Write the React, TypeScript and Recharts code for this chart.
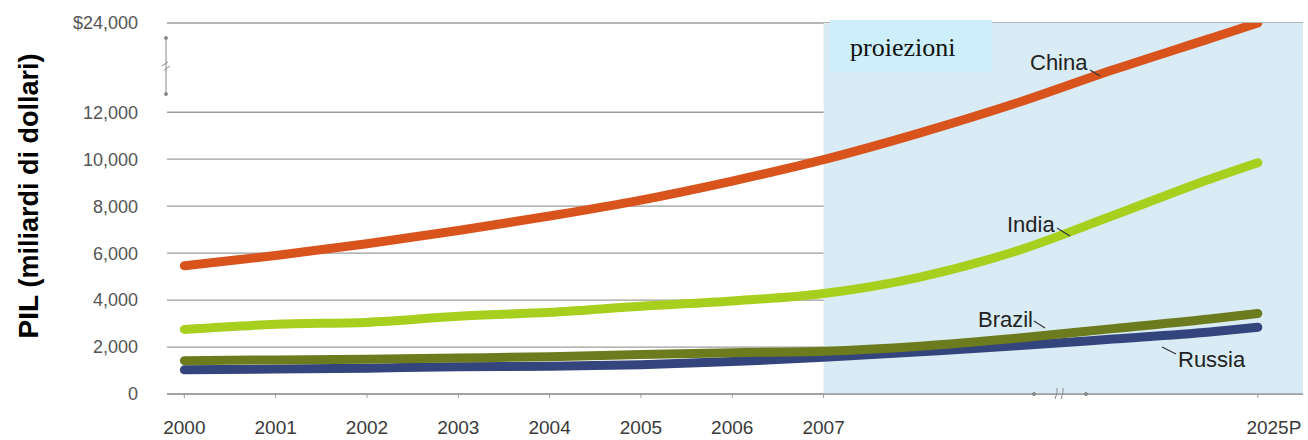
import React from "react"
import { LineChart, Line, XAxis, YAxis, CartesianGrid, ReferenceArea } from "recharts"

// anni: 2000-2007 effettivi, poi proiezioni fino al 2025
const YEARS = [2000, 2001, 2002, 2003, 2004, 2005, 2006, 2007, 2011, 2015, 2019, 2023, 2025]
const CHINA = [5460, 5900, 6400, 6960, 7580, 8260, 9070, 9980, 11120, 13230, 17700, 21900, 24000]
const INDIA = [2750, 2970, 3050, 3310, 3480, 3740, 3960, 4280, 4980, 6090, 7600, 9150, 9850]
const BRAZIL = [1420, 1450, 1480, 1530, 1590, 1680, 1760, 1820, 2030, 2370, 2785, 3190, 3430]
const RUSSIA = [1030, 1060, 1100, 1160, 1180, 1250, 1380, 1560, 1800, 2050, 2340, 2640, 2840]

const TICK_YEARS = [2000, 2001, 2002, 2003, 2004, 2005, 2006, 2007, 2025]
const TICK_LABELS = ["2000", "2001", "2002", "2003", "2004", "2005", "2006", "2007", "2025P"]
const Y_TICKS = [0, 2000, 4000, 6000, 8000, 10000, 12000, 24000]
const Y_TICK_LABELS = ["0", "2,000", "4,000", "6,000", "8,000", "10,000", "12,000", "$24,000"]

const LAST_ACTUAL = 2007
const Y_BREAK = 12000

// broken x axis: projection years are squeezed
const xPos = (year: number) =>
  year <= LAST_ACTUAL ? year - 2000 : 7 + (year - LAST_ACTUAL) * 0.2642

// broken y axis: above 12,000 the scale is compressed
const yPlot = (v: number) => (v <= Y_BREAK ? v : Y_BREAK + ((v - Y_BREAK) * 3800) / 12000)

const X_MIN = -0.19
const X_MAX = 12.25
const Y_MAX = yPlot(24000)

const data = YEARS.map((year, i) => ({
  x: xPos(year),
  china: yPlot(CHINA[i]),
  india: yPlot(INDIA[i]),
  brazil: yPlot(BRAZIL[i]),
  russia: yPlot(RUSSIA[i]),
}))

const xTicks = TICK_YEARS.map(xPos)
const yTicks = Y_TICKS.map(yPlot)

const FONT = "'Liberation Sans', Arial, Helvetica, sans-serif"

function XTick({ x, y, payload }: any) {
  const idx = xTicks.findIndex((t) => Math.abs(t - payload.value) < 1e-6)
  const label = TICK_LABELS[idx] ?? ""
  const shift = label === "2025P" ? 16 : 0
  return (
    <text x={x + shift} y={y} dy="0.71em" textAnchor="middle" fontSize={19} fill="#3a3a3a" fontFamily={FONT}>
      {label}
    </text>
  )
}

const yFormat = (v: number) => {
  const idx = yTicks.findIndex((t) => Math.abs(t - v) < 1e-6)
  return Y_TICK_LABELS[idx] ?? ""
}

function Overlay() {
  const labelStyle = { fontSize: 22, fill: "#222", fontFamily: FONT }
  return (
    <svg
      width={1308}
      height={440}
      style={{ position: "absolute", left: 0, top: 0, pointerEvents: "none" }}
    >
      {/* proiezioni box */}
      <rect x={830} y={20} width={162} height={52} fill="#cdeefb" />
      <text x={850} y={56} fontSize={26} fontFamily="'Liberation Serif', 'Times New Roman', serif" fill="#111">
        proiezioni
      </text>

      {/* y axis title */}
      <text
        transform="translate(38,196) rotate(-90)"
        textAnchor="middle"
        fontFamily={FONT}
        fontWeight="bold"
        fill="#000"
      >
        <tspan fontSize={28}>PIL</tspan>
        <tspan fontSize={27}> (miliardi di dollari)</tspan>
      </text>

      {/* y axis break */}
      <g stroke="#8a8a8a" strokeWidth={1} fill="#8a8a8a">
        <line x1={166} y1={38} x2={166} y2={94} />
        <circle cx={166} cy={38} r={1.5} />
        <circle cx={166} cy={94} r={1.5} />
        <line x1={162} y1={66} x2={168} y2={62} />
        <line x1={164} y1={70} x2={170} y2={66} />
      </g>

      {/* x axis break */}
      <g stroke="#8a8a8a" strokeWidth={1} fill="#8a8a8a">
        <circle cx={1034} cy={394} r={1.6} />
        <circle cx={1086} cy={394} r={1.6} />
        <path d="M1055 399 Q1058 392 1057 388" fill="none" />
        <path d="M1061 399 Q1064 392 1063 388" fill="none" />
      </g>

      {/* series labels */}
      <text x={1030} y={70} {...labelStyle}>China</text>
      <line x1={1090} y1={70} x2={1100} y2={76} stroke="#333" strokeWidth={1.2} />
      <text x={1007} y={232} {...labelStyle}>India</text>
      <line x1={1057} y1={228} x2={1070} y2={236} stroke="#333" strokeWidth={1.2} />
      <text x={978} y={327} {...labelStyle}>Brazil</text>
      <line x1={1034} y1={321} x2={1045} y2={328} stroke="#333" strokeWidth={1.2} />
      <text x={1178} y={367} {...labelStyle}>Russia</text>
      <line x1={1176} y1={354} x2={1162} y2={347} stroke="#333" strokeWidth={1.2} />
    </svg>
  )
}

export default function App() {
  return (
    <div style={{ position: "absolute", left: 0, top: 0, width: 1308, height: 440, background: "#fff" }}>
      <LineChart width={1308} height={440} data={data} margin={{ top: 23, right: 5, bottom: 0, left: 0 }}>
        <ReferenceArea
          x1={xPos(LAST_ACTUAL)}
          x2={X_MAX}
          y1={0}
          y2={Y_MAX}
          fill="#d9ebf4"
          fillOpacity={1}
          stroke="none"
        />
        <CartesianGrid vertical={false} stroke="#9c9c9c" strokeWidth={1.3} />
        <XAxis
          dataKey="x"
          type="number"
          domain={[X_MIN, X_MAX]}
          ticks={xTicks}
          tick={<XTick />}
          height={46}
          tickSize={4}
          tickMargin={23}
          axisLine={{ stroke: "#9c9c9c", strokeWidth: 1.3 }}
          tickLine={{ stroke: "#9c9c9c" }}
          interval={0}
          allowDataOverflow
        />
        <YAxis
          type="number"
          domain={[0, Y_MAX]}
          ticks={yTicks}
          tickFormatter={yFormat}
          width={167}
          axisLine={false}
          tickLine={false}
          tickSize={0}
          tickMargin={29}
          interval={0}
          tick={{ fontSize: 18, fill: "#555", fontFamily: FONT }}
          allowDataOverflow
        />
        <Line type="monotone" dataKey="russia" stroke="#34447c" strokeWidth={9} dot={false} strokeLinecap="round" isAnimationActive={false} />
        <Line type="monotone" dataKey="brazil" stroke="#6c7b1d" strokeWidth={9} dot={false} strokeLinecap="round" isAnimationActive={false} />
        <Line type="monotone" dataKey="india" stroke="#a7d01e" strokeWidth={9} dot={false} strokeLinecap="round" isAnimationActive={false} />
        <Line type="monotone" dataKey="china" stroke="#d9531d" strokeWidth={9} dot={false} strokeLinecap="round" isAnimationActive={false} />
      </LineChart>
      <Overlay />
    </div>
  )
}
